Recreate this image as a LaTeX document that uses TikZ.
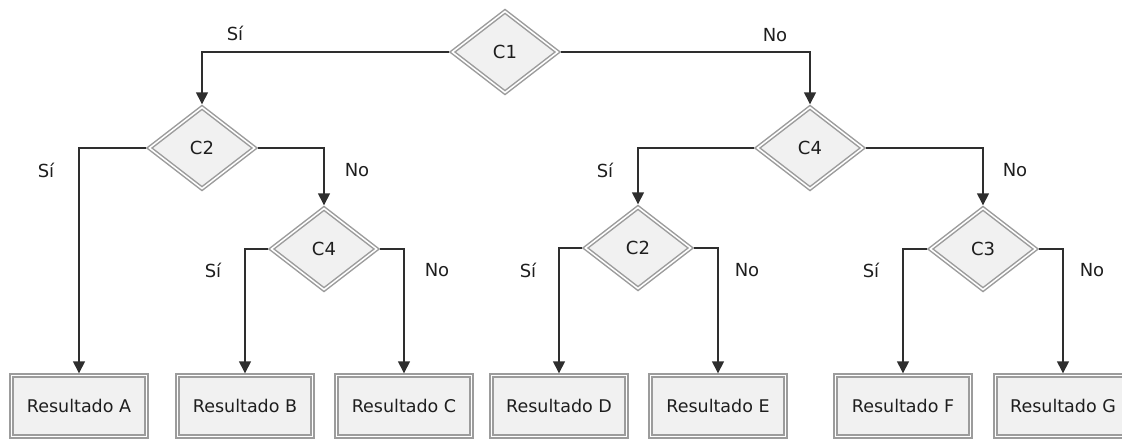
\documentclass[tikz,border=0pt]{standalone}
\usepackage{fontspec}
\setmainfont{DejaVu Sans}
\usetikzlibrary{shapes.geometric,arrows.meta}
\definecolor{bordergray}{HTML}{9C9C9C}
\definecolor{fillgray}{HTML}{F1F1F1}
\definecolor{linecol}{HTML}{2E2E2E}
\definecolor{txt}{HTML}{1E1E1E}
\begin{document}
\begin{tikzpicture}[x=1pt,y=-1pt,
  cond/.style={shape=diamond, draw=bordergray, double=white, double distance=1.5pt,
    line width=1.5pt, fill=fillgray, minimum width=107pt, minimum height=83pt,
    inner sep=0pt, outer sep=2.2pt, font=\fontsize{18}{21}\selectfont, text=txt},
  result/.style={rectangle, draw=bordergray, double=white, double distance=1.5pt,
    line width=1.5pt, fill=fillgray, minimum width=135pt, minimum height=61pt,
    inner sep=0pt, outer sep=2.2pt, font=\fontsize{17.5}{21}\selectfont, text=txt},
  conn/.style={draw=linecol, line width=1.4pt, -{Triangle[width=12pt,length=12pt]}},
  lbl/.style={font=\fontsize{18}{21}\selectfont, text=txt, inner sep=0pt}]
\useasboundingbox (0,0) rectangle (1122,440);
% condition nodes
\node[cond] (C1)  at (505,52)  {C1};
\node[cond] (C2a) at (202,148) {C2};
\node[cond] (C4a) at (324,249) {C4};
\node[cond] (C4b) at (810,148) {C4};
\node[cond] (C2b) at (638,248) {C2};
\node[cond] (C3)  at (983,249) {C3};
% result nodes
\node[result] (RA) at (79,406)   {Resultado A};
\node[result] (RB) at (245,406)  {Resultado B};
\node[result] (RC) at (404,406)  {Resultado C};
\node[result] (RD) at (559,406)  {Resultado D};
\node[result] (RE) at (718,406)  {Resultado E};
\node[result] (RF) at (903,406)  {Resultado F};
\node[result] (RG) at (1063,406) {Resultado G};
% connectors
\draw[conn] (C1.west) -| (C2a.north);
\draw[conn] (C1.east) -| (C4b.north);
\draw[conn] (C2a.west) -| (RA.north);
\draw[conn] (C2a.east) -| (C4a.north);
\draw[conn] (C4a.west) -| (RB.north);
\draw[conn] (C4a.east) -| (RC.north);
\draw[conn] (C4b.west) -| (C2b.north);
\draw[conn] (C4b.east) -| (C3.north);
\draw[conn] (C2b.west) -| (RD.north);
\draw[conn] (C2b.east) -| (RE.north);
\draw[conn] (C3.west) -| (RF.north);
\draw[conn] (C3.east) -| (RG.north);
% labels
\node[lbl] (l1)  at (235,33)  {Sí};
\node[lbl] (l2)  at (775,35)  {No};
\node[lbl] (l3)  at (46,170)  {Sí};
\node[lbl] (l4)  at (357,170) {No};
\node[lbl] (l5)  at (213,270) {Sí};
\node[lbl] (l6)  at (437,270) {No};
\node[lbl] (l7)  at (605,170) {Sí};
\node[lbl] (l8)  at (1015,170) {No};
\node[lbl] (l9)  at (528,270) {Sí};
\node[lbl] (l10) at (747,270) {No};
\node[lbl] (l11) at (871,270) {Sí};
\node[lbl] (l12) at (1092,270) {No};
\end{tikzpicture}
\end{document}
